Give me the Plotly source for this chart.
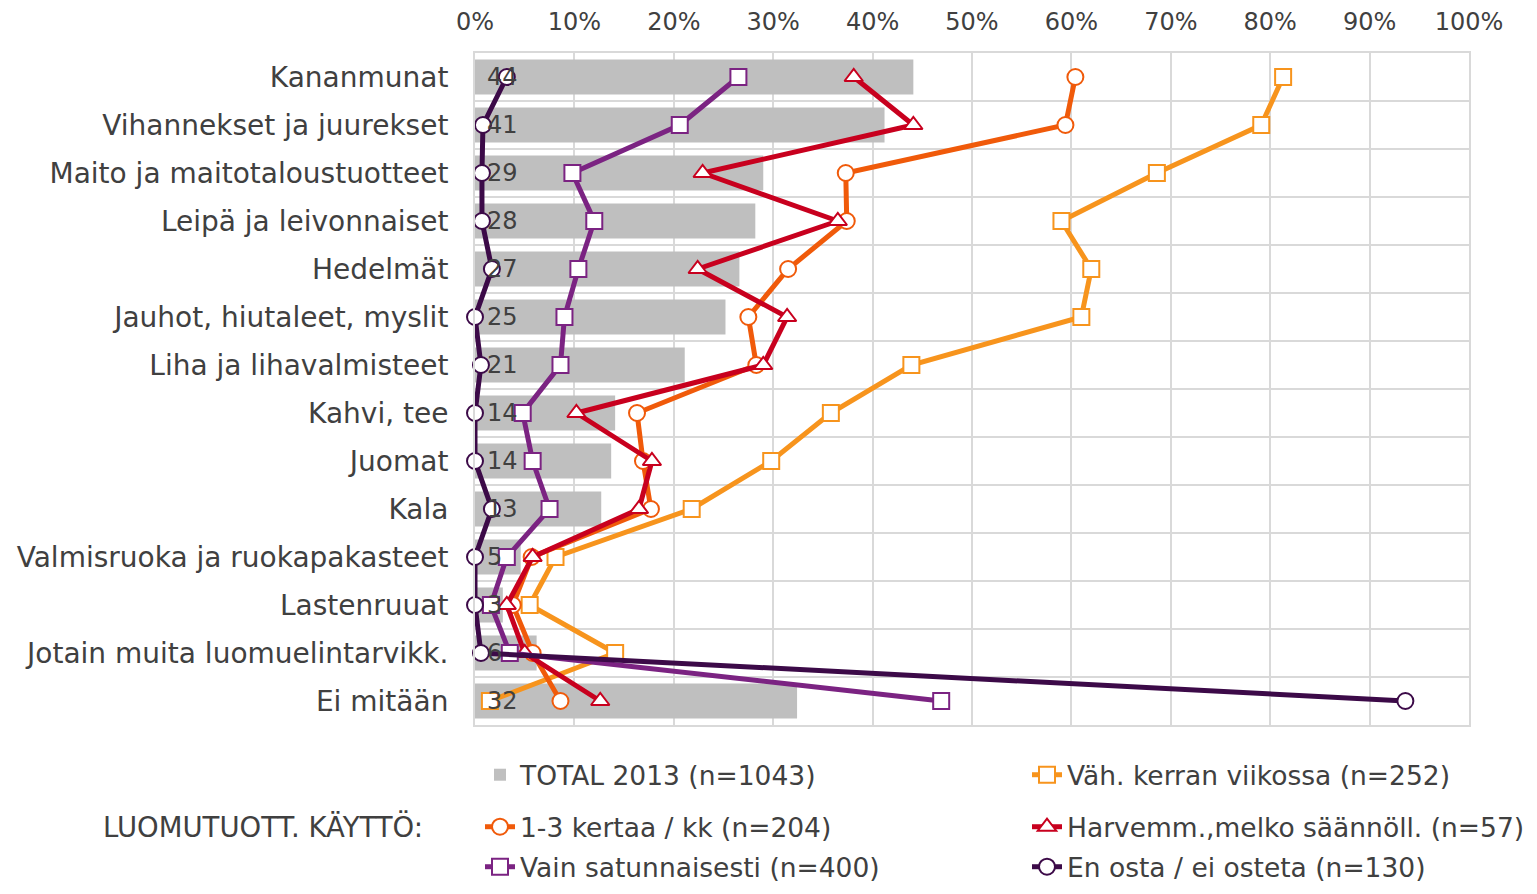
import plotly.graph_objects as go

categories = [
    "Kananmunat",
    "Vihannekset ja juurekset",
    "Maito ja maitotaloustuotteet",
    "Leipä ja leivonnaiset",
    "Hedelmät",
    "Jauhot, hiutaleet, myslit",
    "Liha ja lihavalmisteet",
    "Kahvi, tee",
    "Juomat",
    "Kala",
    "Valmisruoka ja ruokapakasteet",
    "Lastenruuat",
    "Jotain muita luomuelintarvikk.",
    "Ei mitään",
]

total_2013 = [44.1, 41.2, 29.0, 28.2, 26.6, 25.2, 21.1, 14.1, 13.7, 12.7, 4.6, 2.8, 6.2, 32.4]
vah_viikossa = [81.3, 79.1, 68.6, 59.0, 62.0, 61.0, 43.9, 35.8, 29.8, 21.8, 8.1, 5.5, 14.1, 1.5]
kertaa_kk = [60.4, 59.4, 37.3, 37.4, 31.5, 27.5, 28.3, 16.3, 16.9, 17.7, 5.7, 3.8, 5.8, 8.6]
harvemm = [38.1, 44.1, 22.9, 36.5, 22.4, 31.4, 29.0, 10.2, 17.8, 16.5, 5.8, 3.2, 5.0, 12.6]
satunnaisesti = [26.5, 20.6, 9.8, 12.0, 10.4, 9.0, 8.6, 4.8, 5.8, 7.5, 3.2, 1.6, 3.5, 46.9]
en_osta = [3.2, 0.8, 0.7, 0.7, 1.7, 0.0, 0.6, 0.0, 0.0, 1.7, 0.0, 0.0, 0.6, 93.6]

x_tick_values = [0, 10, 20, 30, 40, 50, 60, 70, 80, 90, 100]
x_tick_labels = ["0%", "10%", "20%", "30%", "40%", "50%", "60%", "70%", "80%", "90%", "100%"]

line_series = [
    ("Väh. kerran viikossa (n=252)", vah_viikossa, "#F7941D", "square", "legend"),
    ("1-3 kertaa / kk (n=204)", kertaa_kk, "#F05A0A", "circle", "legend2"),
    ("Harvemm.,melko säännöll. (n=57)", harvemm, "#C8001E", "triangle-up", "legend2"),
    ("Vain satunnaisesti (n=400)", satunnaisesti, "#7B2382", "square", "legend3"),
    ("En osta / ei osteta (n=130)", en_osta, "#3C0A48", "circle", "legend3"),
]

FONT = "DejaVu Sans, Verdana, sans-serif"
TXT = "#404040"

# figure geometry (page has an 8px body margin)
W, H = 1521, 878
ML, MR, MT, MB = 467, 60, 45, 161
PLOT_W = W - ML - MR
PLOT_H = H - MT - MB

def px_x(p):
    return (p - ML) / PLOT_W

def px_y(p):
    return (H - MB - p) / PLOT_H

fig = go.Figure()
fig.add_trace(go.Bar(
    y=categories, x=total_2013, orientation="h",
    name="TOTAL 2013 (n=1043)", marker=dict(color="#BFBFBF", line=dict(width=0)),
    legend="legend",
))

for name, vals, color, sym, lg in line_series:
    fig.add_trace(go.Scatter(
        y=categories, x=vals, mode="lines+markers", name=name,
        line=dict(color=color, width=5),
        marker=dict(symbol=sym, size=16, color="white", line=dict(color=color, width=2)),
        cliponaxis=False, legend=lg,
    ))

for c, v in zip(categories, total_2013):
    fig.add_annotation(
        x=0, y=c, text=str(int(round(v))), xanchor="left", xshift=10,
        showarrow=False, font=dict(family=FONT, size=24, color=TXT),
    )

legend_common = dict(
    orientation="h", xanchor="left", yanchor="middle", x=px_x(ML - 2),
    indentation=7,
    font=dict(family=FONT, size=26.5, color=TXT),
    bgcolor="rgba(0,0,0,0)", entrywidth=495, entrywidthmode="pixels",
    itemclick=False, itemdoubleclick=False,
)

fig.add_annotation(
    xref="paper", yref="paper", x=px_x(417), y=px_y(819),
    xanchor="right", yanchor="middle", showarrow=False,
    text="LUOMUTUOTT. KÄYTTÖ:", font=dict(family=FONT, size=27.5, color=TXT),
)

fig.update_layout(
    width=W, height=H,
    margin=dict(l=ML, r=MR, t=MT, b=MB, autoexpand=False),
    paper_bgcolor="white", plot_bgcolor="white",
    font=dict(family=FONT, color=TXT),
    bargap=0.27,
    showlegend=True,
    legend=dict(legend_common, y=px_y(767)),
    legend2=dict(legend_common, y=px_y(819)),
    legend3=dict(legend_common, y=px_y(859)),
    xaxis=dict(
        side="top", range=[0, 100], tickmode="array",
        tickvals=x_tick_values, ticktext=x_tick_labels,
        showgrid=True, gridcolor="#D9D9D9", gridwidth=2, zeroline=False,
        showline=True, linecolor="#D9D9D9", linewidth=2, mirror=True,
        ticks="", ticklabelstandoff=11,
        tickfont=dict(family=FONT, size=24, color=TXT), fixedrange=True,
    ),
    yaxis=dict(
        type="category", categoryorder="array", categoryarray=categories,
        range=[len(categories) - 0.5, -0.5], tickson="boundaries",
        showgrid=True, gridcolor="#D9D9D9", gridwidth=2,
        showline=True, linecolor="#D9D9D9", linewidth=2, mirror=True,
        ticks="", ticklabelstandoff=19,
        tickfont=dict(family=FONT, size=28, color=TXT), fixedrange=True,
    ),
)

fig.write_html("out.html")
